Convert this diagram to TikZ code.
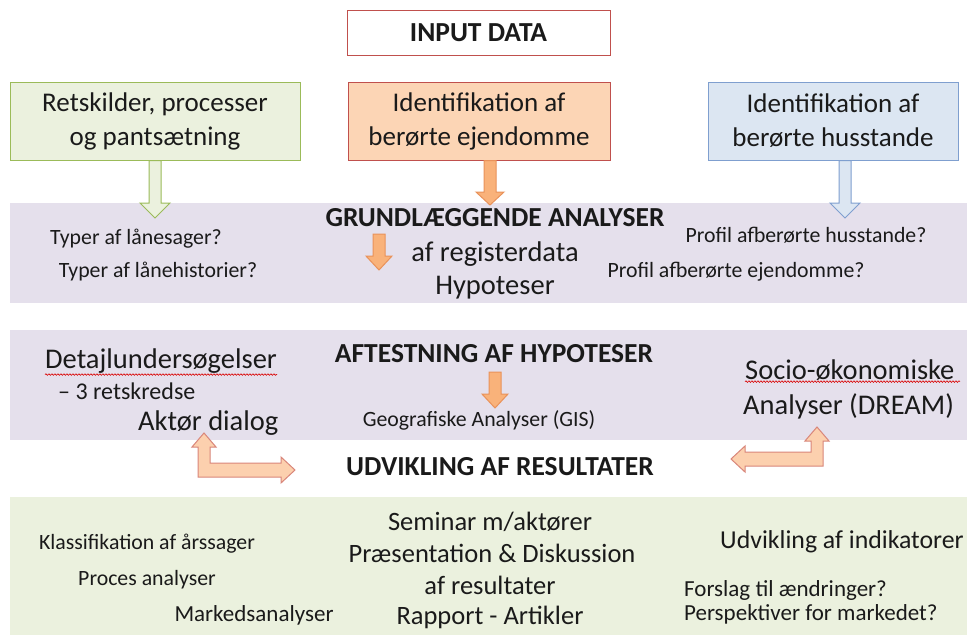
\documentclass[tikz,border=0pt]{standalone}
\usepackage{fontspec}
\setmainfont{Carlito}
\usetikzlibrary{decorations.pathmorphing}
\definecolor{bandpurple}{HTML}{E5E0EC}
\definecolor{bandgreen}{HTML}{EBF1DE}
\definecolor{boxgreen}{HTML}{EBF1DE}
\definecolor{edgegreen}{HTML}{9BBB59}
\definecolor{boxorange}{HTML}{FCD5B5}
\definecolor{edgered}{HTML}{C0504D}
\definecolor{boxblue}{HTML}{DCE6F2}
\definecolor{edgeblue}{HTML}{7F9FCF}
\definecolor{arroworange}{HTML}{F9B27A}
\definecolor{edgeorange}{HTML}{E9925A}
\definecolor{bentfill}{HTML}{FCD0AE}
\definecolor{bentedge}{HTML}{D9867A}
\definecolor{txt}{HTML}{1A1A1A}
\tikzset{
  inbox/.style={draw, line width=1pt, minimum height=78pt, align=center, font=\fontsize{27}{34}\selectfont, text=txt, inner sep=0pt},
  head/.style={font=\fontsize{27.5}{30}\selectfont\bfseries, text=txt, inner sep=0pt},
  big/.style={font=\fontsize{26.5}{30}\selectfont, text=txt, inner sep=0pt},
  small/.style={font=\fontsize{21.8}{25}\selectfont, text=txt, inner sep=0pt},
  mid/.style={font=\fontsize{28.5}{32}\selectfont, text=txt, inner sep=0pt},
  wavy/.style={draw=red!85!black, line width=0.6pt, decorate, decoration={snake, amplitude=0.8pt, segment length=3pt}},
  blk/.style={line width=1pt, line join=miter},
}
% down block arrow: #1 style, #2 x centre, #3 y top, #4 y tip, #5 half shaft, #6 half head, #7 head length
\newcommand\blockdown[7]{%
  \filldraw[#1] (#2-#5,#3) -- (#2+#5,#3) -- (#2+#5,#4-#7) -- (#2+#6,#4-#7) -- (#2,#4)
    -- (#2-#6,#4-#7) -- (#2-#5,#4-#7) -- cycle;}
\begin{document}
\begin{tikzpicture}[x=1pt,y=-1pt]
\useasboundingbox (0,0) rectangle (967,635);
\fill[white] (0,0) rectangle (967,635);
% bands
\fill[bandpurple] (10,203) rectangle (967,303);
\fill[bandpurple] (10,330) rectangle (967,440);
\fill[bandgreen] (10,497) rectangle (967,635);

% top boxes
\node[draw=edgered, line width=1pt, minimum width=263pt, minimum height=45pt, head] (input) at (478.5,32.5) {INPUT DATA};
\node[inbox, draw=edgegreen, fill=boxgreen, minimum width=290pt] (ret) at (155,121) {Retskilder, processer\\og pantsætning};
\node[inbox, draw=edgered, fill=boxorange, minimum width=262pt] (ide) at (479,121) {Identifikation af\\berørte ejendomme};
\node[inbox, draw=edgeblue, fill=boxblue, minimum width=250pt] (idh) at (833,121) {Identifikation af\\berørte husstande};

% down arrows from the boxes
\blockdown{blk, draw=edgegreen, fill=boxgreen}{155}{160.5}{218}{6}{15}{15}
\blockdown{blk, draw=edgeorange, fill=arroworange}{490}{160.5}{205}{6}{14}{13}
\blockdown{blk, draw=edgeblue, fill=boxblue}{845}{160.5}{218}{6}{15}{15}

% band 1
\node[head] (grund) at (495,218) {GRUNDLÆGGENDE ANALYSER};
\blockdown{blk, draw=edgeorange, fill=arroworange}{379}{234}{270}{6}{13}{14}
\node[mid] (reg) at (495,254) {af registerdata};
\node[mid] (hyp) at (495,288) {Hypoteser};
\node[small] (t1) at (136,239) {Typer af lånesager?};
\node[small] (t2) at (158,272) {Typer af lånehistorier?};
\node[small] (p1) at (806,235) {Profil afberørte husstande?};
\node[small] (p2) at (736,272) {Profil afberørte ejendomme?};

% band 2
\node[head] (aft) at (494,354) {AFTESTNING AF HYPOTESER};
\blockdown{blk, draw=edgeorange, fill=arroworange}{495}{372}{408}{6}{13}{14}
\node[small] (geo) at (479,420) {Geografiske Analyser (GIS)};
\node[mid, anchor=west] (det) at (45,361) {Detajlundersøgelser};
\draw[wavy] (det.south west)++(0,1) -- ++(232,0);
\node[small, font=\fontsize{24}{27}\selectfont, anchor=west] (ret3) at (58,391) {– 3 retskredse};
\node[mid, anchor=west] (akt) at (138,423) {Aktør dialog};
\node[mid, anchor=west] (soc) at (745,370) {Socio-økonomiske};
\draw[wavy] (soc.south west)++(0,1) -- ++(215,0);
\node[mid, anchor=west] (dre) at (743,406) {Analyser (DREAM)};

\node[head] (udv) at (500,467) {UDVIKLING AF RESULTATER};

% bent arrows
\filldraw[blk, draw=bentedge, fill=bentfill]
  (204,433) -- (216,447) -- (210,447) -- (210,463) -- (281,463) -- (281,457)
  -- (295,470) -- (281,483) -- (281,477) -- (198,477) -- (198,447) -- (192,447) -- cycle;
\filldraw[blk, draw=bentedge, fill=bentfill]
  (817,427) -- (829,441) -- (823,441) -- (823,466) -- (745,466) -- (745,472)
  -- (731,459) -- (745,446) -- (745,452) -- (811,452) -- (811,441) -- (805,441) -- cycle;

% band 3
\node[big] (sem) at (490,522) {Seminar m/aktører};
\node[big] (pra) at (492,553) {Præsentation \& Diskussion};
\node[big] (afr) at (490,585) {af resultater};
\node[big] (rap) at (490,617) {Rapport - Artikler};
\node[small] (kla) at (147,544) {Klassifikation af årssager};
\node[small] (pro) at (147,580) {Proces analyser};
\node[small, font=\fontsize{23}{26}\selectfont] (mar) at (254,615) {Markedsanalyser};
\node[small, font=\fontsize{25.8}{29}\selectfont] (ind) at (842,542) {Udvikling af indikatorer};
\node[small, font=\fontsize{23}{26}\selectfont, anchor=west] (for) at (684,590) {Forslag til ændringer?};
\node[small, font=\fontsize{23}{26}\selectfont, anchor=west] (per) at (684,614) {Perspektiver for markedet?};
\end{tikzpicture}
\end{document}
